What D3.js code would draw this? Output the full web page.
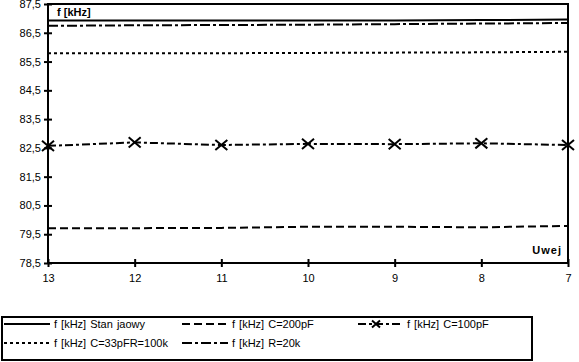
<!DOCTYPE html>
<html>
<head>
<meta charset="utf-8">
<script src="https://cdn.jsdelivr.net/npm/d3@7"></script>
<style>
  body { margin: 0; background: #fff; }
  svg { display: block; font-family: "Liberation Sans", Arial, sans-serif; }
</style>
</head>
<body>
<script>
var uwej = [13, 12, 11, 10, 9, 8, 7];
var yTicks = [78.5, 79.5, 80.5, 81.5, 82.5, 83.5, 84.5, 85.5, 86.5, 87.5];

var stanJalowy = [86.93, 86.93, 86.93, 86.93, 86.93, 86.94, 86.96];
var c200 = [79.71, 79.71, 79.72, 79.76, 79.76, 79.74, 79.79];
var c100 = [82.57, 82.69, 82.60, 82.64, 82.63, 82.66, 82.60];
var c33r100 = [85.79, 85.79, 85.79, 85.80, 85.81, 85.82, 85.84];
var r20 = [86.74, 86.76, 86.77, 86.78, 86.80, 86.82, 86.84];

var series = [
  {name: "f [kHz] Stan jaowy", values: stanJalowy, dash: null},
  {name: "f [kHz] C=200pF", values: c200, dash: "8,4"},
  {name: "f [kHz] C=100pF", values: c100, dash: "8,3,3,3", marker: true},
  {name: "f [kHz] C=33pFR=100k", values: c33r100, dash: "3,3"},
  {name: "f [kHz] R=20k", values: r20, dash: "10,3,3,3"}
];

var width = 579, height = 362,
    plotLeft = 48, plotRight = 568, plotTop = 4, plotBottom = 263;

var svg = d3.select("body").append("svg")
    .attr("width", width)
    .attr("height", height);

var x = d3.scaleLinear().domain([13, 7]).range([plotLeft, plotRight]);
var y = d3.scaleLinear().domain([78.5, 87.5]).range([plotBottom, plotTop]);

// frame
svg.append("rect")
  .attr("x", plotLeft).attr("y", plotTop)
  .attr("width", plotRight - plotLeft).attr("height", plotBottom - plotTop)
  .attr("fill", "none").attr("stroke", "#000").attr("stroke-width", 2);

// y axis
var yAxis = d3.axisLeft(y).tickValues(yTicks).tickSizeInner(3).tickSizeOuter(0)
  .tickFormat(function(d) { return d3.format(".1f")(d).replace(".", ","); });
var gy = svg.append("g").attr("transform", "translate(" + plotLeft + ",0)").call(yAxis);
gy.select(".domain").remove();
gy.selectAll(".tick line").attr("x2", 4).attr("x1", -4).attr("stroke-width", 2);
gy.selectAll(".tick text").attr("x", -7).attr("font-size", 11)
  .attr("font-family", "Liberation Sans, Arial, sans-serif").attr("fill", "#000");

// x axis
var xAxis = d3.axisBottom(x).tickValues(uwej).tickSizeOuter(0).tickFormat(d3.format("d"));
var gx = svg.append("g").attr("transform", "translate(0," + plotBottom + ")").call(xAxis);
gx.select(".domain").remove();
gx.selectAll(".tick line").attr("y1", -4).attr("y2", 4).attr("stroke-width", 2);
gx.selectAll(".tick text").attr("y", 11).attr("font-size", 11)
  .attr("font-family", "Liberation Sans, Arial, sans-serif").attr("fill", "#000");

// axis titles inside plot
svg.append("text").attr("x", plotLeft + 9).attr("y", plotTop + 12)
  .attr("font-size", 11).attr("font-weight", "bold").text("f [kHz]");
svg.append("text").attr("x", plotRight - 6).attr("y", plotBottom - 9)
  .attr("text-anchor", "end").attr("font-size", 11).attr("font-weight", "bold")
  .attr("letter-spacing", 1).text("Uwej");

var line = d3.line()
  .x(function(d, i) { return x(uwej[i]); })
  .y(function(d) { return y(d); });

function xMark(g, cx, cy, r) {
  g.append("path")
    .attr("d", "M" + (cx - r) + "," + (cy - r * 0.85) + "L" + (cx + r) + "," + (cy + r * 0.85) +
               "M" + (cx - r) + "," + (cy + r * 0.85) + "L" + (cx + r) + "," + (cy - r * 0.85))
    .attr("stroke", "#000").attr("stroke-width", 2).attr("fill", "none");
}

var plot = svg.append("g");
series.forEach(function(s) {
  plot.append("path")
    .datum(s.values)
    .attr("d", line)
    .attr("fill", "none")
    .attr("stroke", "#000")
    .attr("stroke-width", 2)
    .attr("stroke-dasharray", s.dash);
  if (s.marker) {
    s.values.forEach(function(v, i) { xMark(plot, x(uwej[i]), y(v), 6); });
  }
});

// legend
var legend = svg.append("g");
legend.append("rect").attr("x", 2).attr("y", 317).attr("width", 530).attr("height", 43)
  .attr("fill", "none").attr("stroke", "#000").attr("stroke-width", 2);

var legendPos = [
  {x: 4, y: 324, w: 46}, {x: 182, y: 324, w: 46}, {x: 358, y: 324, w: 45},
  {x: 4, y: 343, w: 46}, {x: 182, y: 343, w: 46}
];
series.forEach(function(s, i) {
  var p = legendPos[i];
  legend.append("line")
    .attr("x1", p.x).attr("x2", p.x + p.w).attr("y1", p.y).attr("y2", p.y)
    .attr("stroke", "#000").attr("stroke-width", 2)
    .attr("stroke-dasharray", s.dash);
  if (s.marker) xMark(legend, p.x + 18, p.y, 4);
  legend.append("text").attr("x", p.x + p.w + 4).attr("y", p.y + 4)
    .attr("font-size", 11).attr("word-spacing", 1).text(s.name);
});
</script>
</body>
</html>
